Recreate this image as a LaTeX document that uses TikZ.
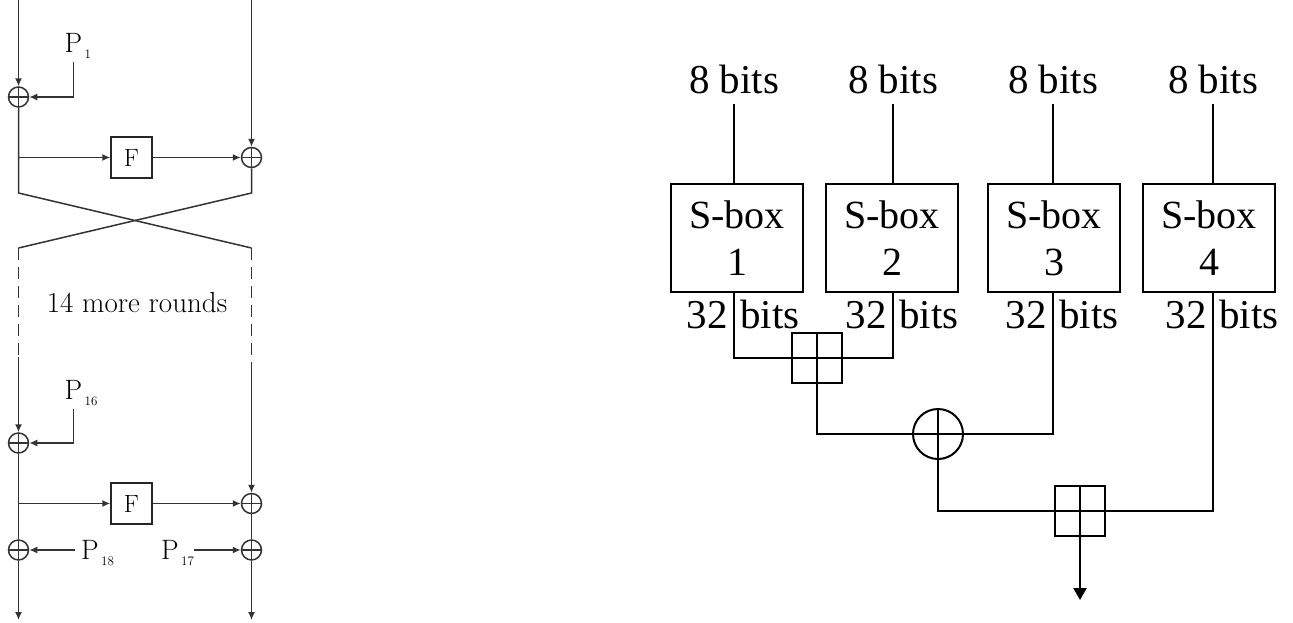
\documentclass[tikz,border=0pt]{standalone}
\usepackage{fontspec}
\newfontfamily\timesfont{Liberation Serif}
\usetikzlibrary{arrows.meta}

\tikzset{
  crossed/.style={path picture={
    \draw[line width=#1] (path picture bounding box.north) -- (path picture bounding box.south)
      (path picture bounding box.west) -- (path picture bounding box.east);}},
  % Feistel side
  feistel/.style={line width=1.5pt,draw=black!80},
  farr/.style={feistel,-{Latex[length=8pt,width=7pt]}},
  xorsm/.style={circle,draw=black!80,line width=1.5pt,minimum size=20pt,inner sep=0pt,crossed=1.5pt},
  fbox/.style={draw=black!85,line width=1.5pt,minimum size=41pt,inner sep=0pt,font=\fontsize{25}{25}\selectfont},
  plab/.style={inner sep=0pt,font=\fontsize{28}{30}\selectfont},
  sublab/.style={inner sep=0pt,anchor=north west,xshift=2pt,yshift=3pt,font=\fontsize{13}{13}\selectfont},
  % F function side
  wire/.style={line width=2pt},
  bitlab/.style={inner sep=0pt,font=\timesfont\fontsize{41}{45}\selectfont},
  sbox/.style={draw,line width=2pt,minimum width=132pt,minimum height=108pt,inner sep=0pt,
    align=center,font=\timesfont\fontsize{40}{47}\selectfont},
  addbox/.style={draw,line width=2pt,minimum size=50pt,inner sep=0pt,crossed=2pt},
  xorbig/.style={circle,draw,line width=2pt,minimum size=50pt,inner sep=0pt,crossed=2pt}
}

\begin{document}
\begin{tikzpicture}[x=1pt,y=-1pt]
  \useasboundingbox (0,0) rectangle (1293,622);

  % first round
  \coordinate (lin) at (18.5,0);
  \coordinate (rin) at (251.5,0);
  \node[xorsm] (x1) at (18.5,97) {};
  \node[plab,label={[sublab]south east:1}] (p1) at (73.5,43) {P};
  \node[fbox] (f1) at (131.5,157.5) {F};
  \node[xorsm] (y1) at (251.5,157.5) {};
  \draw[farr] (lin) -- (x1);
  \draw[farr,shorten <=9pt] (p1.south) |- (x1);
  \draw[farr] (x1 |- f1) -- (f1);
  \draw[farr] (f1) -- (y1);
  \draw[farr] (rin) -- (y1);

  \coordinate (c1) at (18.5,193);
  \coordinate (c2) at (251.5,193);
  \coordinate (c3) at (18.5,248);
  \coordinate (c4) at (251.5,248);
  \draw[feistel] (x1) -- (c1) -- (c4);
  \draw[feistel] (y1) -- (c2) -- (c3);

  \coordinate (d1) at (18.5,357);
  \coordinate (d2) at (251.5,365);
  \draw[feistel,dash pattern=on 12pt off 7pt] (c3) -- (d1);
  \draw[feistel,dash pattern=on 12pt off 7pt] (c4) -- (d2);
  \node[font=\fontsize{29}{30}\selectfont] (rounds) at (137,303) {14 more rounds};

  % last round
  \node[xorsm] (x2) at (18.5,443) {};
  \node[plab,label={[sublab]south east:16}] (p16) at (73.5,390) {P};
  \node[fbox] (f2) at (131.5,503.5) {F};
  \node[xorsm] (y2) at (251.5,503.5) {};
  \draw[farr] (d1) -- (x2);
  \draw[farr,shorten <=9pt] (p16.south) |- (x2);
  \draw[farr] (x2 |- f2) -- (f2);
  \draw[farr] (f2) -- (y2);
  \draw[farr] (d2) -- (y2);

  \node[xorsm] (x3) at (18.5,550) {};
  \node[xorsm] (y3) at (251.5,550) {};
  \node[plab,label={[sublab]south east:18}] (p18) at (90,550) {P};
  \node[plab,label={[sublab,name=p17s]south east:17}] (p17) at (170,550) {P};
  \coordinate (lout) at (18.5,620);
  \coordinate (rout) at (251.5,620);
  \draw[feistel] (x2) -- (x3);
  \draw[feistel] (y2) -- (y3);
  \draw[farr,shorten <=6pt] (p18) -- (x3);
  \draw[farr] (p17s.east |- y3) -- (y3);
  \draw[farr] (x3) -- (lout);
  \draw[farr] (y3) -- (rout);

  % S-boxes
  \foreach \i/\xl/\xb in {1/734/737,2/893/892,3/1053/1054,4/1213/1209} {
    \node[bitlab,anchor=base] (lab\i) at (\xl,93) {8 bits};
    \node[sbox] (s\i) at (\xb,238) {S-box\\\i};
    \draw[wire,shorten <=10pt] (lab\i.south) -- (lab\i.south |- s\i.north);
    \coordinate (o\i) at (s\i.south -| lab\i.south);
    \path (o\i) ++(-6,35) node[bitlab,anchor=base east] (n\i) {32};
    \path (o\i) ++(6,35) node[bitlab,anchor=base west] (b\i) {bits};
  }

  \node[addbox] (add1) at (816.5,357.5) {};
  \node[xorbig] (xor1) at (938,434) {};
  \node[addbox] (add2) at (1080,511) {};
  \coordinate (out) at (1080,600);
  \draw[wire] (o1) |- (add1);
  \draw[wire] (o2) |- (add1);
  \draw[wire] (add1) |- (xor1);
  \draw[wire] (o3) |- (xor1);
  \draw[wire] (xor1) |- (add2);
  \draw[wire] (o4) |- (add2);
  \draw[wire,-{Triangle[length=12pt,width=13pt]}] (add2) -- (out);
\end{tikzpicture}
\end{document}
